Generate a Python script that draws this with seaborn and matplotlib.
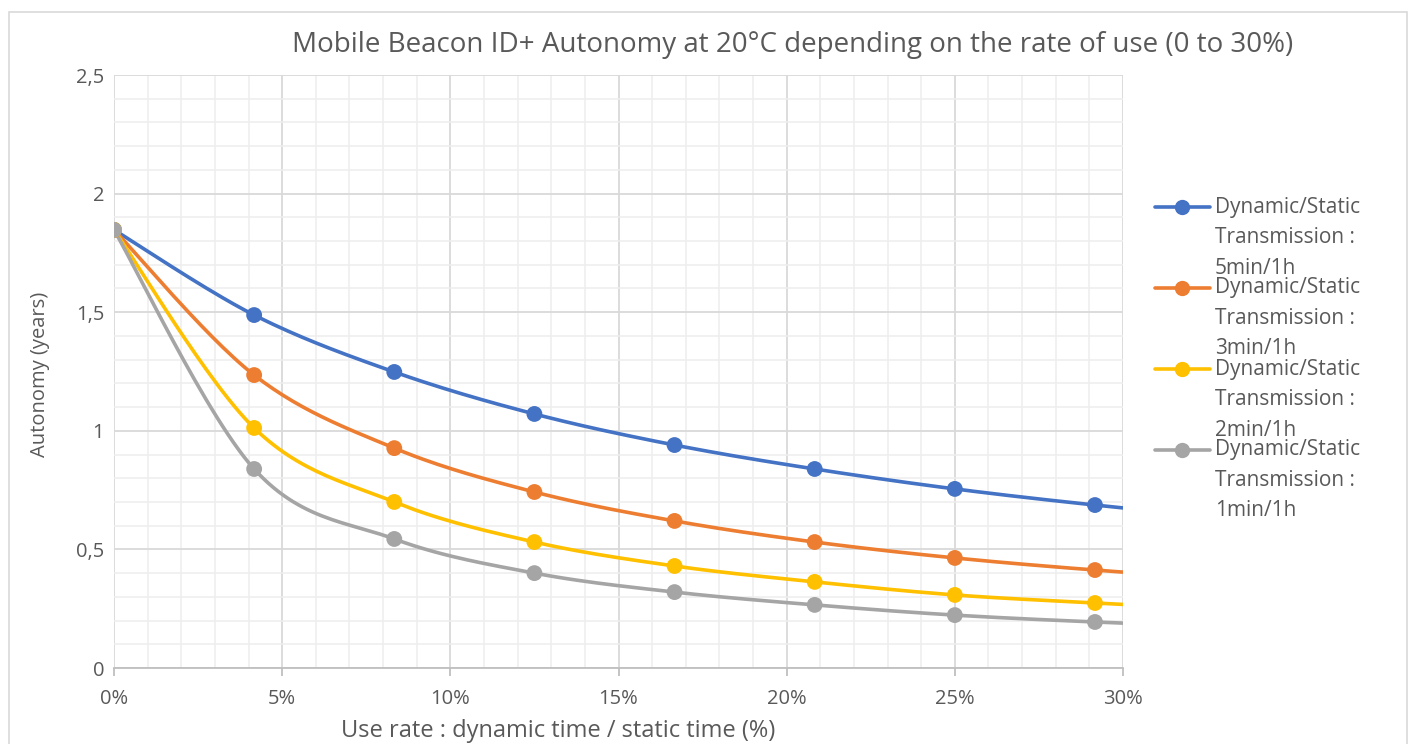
import numpy as np
import pandas as pd
import matplotlib
matplotlib.use("Agg")
import matplotlib.pyplot as plt
from matplotlib.lines import Line2D
from matplotlib.patches import Rectangle
from matplotlib.ticker import MultipleLocator, FuncFormatter
import seaborn as sns

# ---------------- data ----------------
use_rate = [0.0, 4.1667, 8.3333, 12.5, 16.6667, 20.8333, 25.0, 29.1667, 33.3333]
autonomy_5min = [1.847, 1.488, 1.248, 1.071, 0.940, 0.839, 0.755, 0.687, 0.630]
autonomy_3min = [1.847, 1.235, 0.927, 0.742, 0.620, 0.531, 0.464, 0.413, 0.372]
autonomy_2min = [1.847, 1.012, 0.700, 0.531, 0.430, 0.363, 0.308, 0.274, 0.244]
autonomy_1min = [1.847, 0.839, 0.544, 0.400, 0.320, 0.266, 0.223, 0.194, 0.172]
series_labels = [
    "Dynamic/Static\nTransmission :\n5min/1h",
    "Dynamic/Static\nTransmission :\n3min/1h",
    "Dynamic/Static\nTransmission :\n2min/1h",
    "Dynamic/Static\nTransmission :\n1min/1h",
]
colors = ["#4472C4", "#ED7D31", "#FFC000", "#A5A5A5"]
title = "Mobile Beacon ID+ Autonomy at 20°C depending on the rate of use (0 to 30%)"
xlabel = "Use rate : dynamic time / static time (%)"
ylabel = "Autonomy (years)"

series = [autonomy_5min, autonomy_3min, autonomy_2min, autonomy_1min]


def smooth(x, y, n=30):
    """Catmull-Rom style Bezier smoothing (like Excel's smoothed line)."""
    x = np.asarray(x, float)
    y = np.asarray(y, float)
    px = np.concatenate([[x[0]], x, [x[-1]]])
    py = np.concatenate([[y[0]], y, [y[-1]]])
    xs, ys = [], []
    t = np.linspace(0, 1, n)
    for i in range(1, len(px) - 2):
        p0 = np.array([px[i], py[i]])
        p3 = np.array([px[i + 1], py[i + 1]])
        c1 = p0 + (np.array([px[i + 1], py[i + 1]]) - np.array([px[i - 1], py[i - 1]])) / 6
        c2 = p3 - (np.array([px[i + 2], py[i + 2]]) - np.array([px[i], py[i]])) / 6
        b = ((1 - t) ** 3)[:, None] * p0 + (3 * (1 - t) ** 2 * t)[:, None] * c1 \
            + (3 * (1 - t) * t ** 2)[:, None] * c2 + (t ** 3)[:, None] * p3
        xs.append(b[:, 0]); ys.append(b[:, 1])
    return np.concatenate(xs), np.concatenate(ys)


rows_line, rows_pt = [], []
for lab, vals in zip(series_labels, series):
    sx, sy = smooth(use_rate, vals)
    for a, b in zip(sx, sy):
        rows_line.append({"x": a, "y": b, "s": lab})
    for a, b in zip(use_rate, vals):
        rows_pt.append({"x": a, "y": b, "s": lab})
df_line = pd.DataFrame(rows_line)
df_pt = pd.DataFrame(rows_pt)

sns.set_theme(style="white")
plt.rcParams["font.family"] = ["Open Sans", "DejaVu Sans"]
text_color = "#595959"

W, H = 1409, 744
fig = plt.figure(figsize=(W / 100, H / 100), dpi=100)
ax = fig.add_axes([114 / W, 76 / H, (1123 - 114) / W, (668 - 75) / H])

palette = dict(zip(series_labels, colors))
sns.lineplot(data=df_line, x="x", y="y", hue="s", palette=palette, sort=False,
             estimator=None, linewidth=2.6, legend=False, ax=ax, zorder=3)
sns.scatterplot(data=df_pt, x="x", y="y", hue="s", palette=palette, s=130,
                edgecolor="none", legend=False, ax=ax, zorder=4, clip_on=True)

ax.set_xlim(0, 30)
ax.set_ylim(0, 2.5)
ax.xaxis.set_major_locator(MultipleLocator(5))
ax.xaxis.set_minor_locator(MultipleLocator(1))
ax.yaxis.set_major_locator(MultipleLocator(0.5))
ax.yaxis.set_minor_locator(MultipleLocator(0.1))
ax.xaxis.set_major_formatter(FuncFormatter(lambda v, p: f"{int(round(v))}%"))
ax.yaxis.set_major_formatter(FuncFormatter(lambda v, p: (f"{v:g}").replace(".", ",")))
ax.grid(which="major", color="#D9D9D9", linewidth=1.3)
ax.grid(which="minor", color="#EEEEEE", linewidth=1.1)
ax.set_axisbelow(True)
for side in ["top", "right", "left"]:
    ax.spines[side].set_visible(False)
ax.spines["bottom"].set_color("#BFBFBF")
ax.spines["bottom"].set_linewidth(1.3)
ax.tick_params(axis="x", which="major", direction="out", length=6, width=1.3,
               color="#BFBFBF", labelsize=14.5, labelcolor=text_color, pad=9, bottom=True)
ax.tick_params(axis="x", which="minor", length=0)
ax.tick_params(axis="y", which="both", length=0, labelsize=14.5, labelcolor=text_color, pad=7)

ax.set_xlabel(xlabel, fontsize=17, color=text_color, labelpad=9)
ax.xaxis.set_label_coords((558 - 114) / (1123 - 114), -(731 - 668) / (668 - 75))
ax.xaxis.label.set_va("center")
ax.set_ylabel(ylabel, fontsize=14.5, color=text_color)
ax.yaxis.set_label_coords(-(114 - 40) / (1123 - 114), (668 - 374) / (668 - 75))
ax.yaxis.label.set_va("center")
fig.text(793 / W, 1 - 45 / H, title, ha="center", va="center", fontsize=20, color=text_color)

# legend (handle aligned with the first line of each label, as in the original)
entry_y = [207, 288, 369, 450]
line_gap = 30.5
for c, lab, y0 in zip(colors, series_labels, entry_y):
    yf = 1 - y0 / H
    fig.add_artist(Line2D([1155 / W, 1210 / W], [yf, yf], transform=fig.transFigure,
                          color=c, lw=2.6))
    fig.add_artist(Line2D([1182 / W], [yf], transform=fig.transFigure, color=c,
                          marker="o", markersize=10, lw=0))
    for k, part in enumerate(lab.split("\n")):
        fig.text(1215 / W, 1 - (y0 + k * line_gap) / H, part, ha="left", va="center",
                 fontsize=15, color=text_color)

fig.patches.append(Rectangle((9 / W, -0.05), (1407 - 9) / W, 1.05 - 12 / H,
                             transform=fig.transFigure, fill=False,
                             edgecolor="#D9D9D9", linewidth=1.2))

fig.savefig("out.png", dpi=100)
